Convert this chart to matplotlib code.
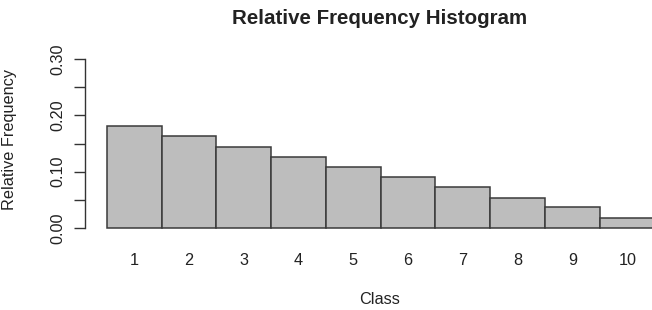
import matplotlib
matplotlib.use("Agg")
import matplotlib.pyplot as plt
import numpy as np

# ── Data ──────────────────────────────────────────────────────────────────────
classes   = ["1", "2", "3", "4", "5", "6", "7", "8", "9", "10"]
rel_freq  = [0.181, 0.163, 0.144, 0.127, 0.109, 0.091, 0.073, 0.054, 0.037, 0.017]
y_ticks   = [0.00, 0.05, 0.10, 0.15, 0.20, 0.25, 0.30]
y_labels  = ["0.00", "", "0.10", "", "0.20", "", "0.30"]

plt.rcParams["font.family"] = ["Liberation Sans", "DejaVu Sans"]
text_col = "#222222"

W, H = 652, 310
fig = plt.figure(figsize=(W / 100, H / 100), dpi=100)
# plot region runs past the right edge, like the clipped R device
ax = fig.add_axes([84.8 / W, 1 - 234.8 / H, 591.8 / W, 182.5 / H])

x = np.arange(len(classes)) + 0.5
ax.bar(x, rel_freq, width=1.0, color="#bdbdbd", edgecolor="#3a3a3a", linewidth=1.1)

ax.set_xlim(-0.4, 10.4)
ax.set_ylim(-0.012, 0.312)

for side in ["top", "right", "bottom"]:
    ax.spines[side].set_visible(False)
ax.spines["left"].set_bounds(0, 0.30)
ax.spines["left"].set_color("#333333")
ax.spines["left"].set_linewidth(1.0)

ax.set_yticks(y_ticks)
ax.set_yticklabels(y_labels, rotation=90, va="center", fontsize=11.7, color=text_col)
ax.tick_params(axis="y", length=8, width=1.0, color="#333333", pad=6)

ax.set_xticks(x)
ax.set_xticklabels(classes, fontsize=11.7, color=text_col)
ax.tick_params(axis="x", length=0, pad=13)

ax.set_xlabel("Class", fontsize=11.7, color=text_col)
ax.xaxis.set_label_coords((380 - 84.8) / 591.8, -(300 - 234.8) / 182.5)
ax.xaxis.label.set_va("center")
ax.set_ylabel("Relative Frequency", fontsize=11.7, color=text_col)
ax.yaxis.set_label_coords(-(84.8 - 10) / 591.8, (234.8 - 139) / 182.5)
ax.yaxis.label.set_va("center")

fig.text(380 / W, 1 - 18 / H, "Relative Frequency Histogram", ha="center",
         va="center", fontsize=14.8, fontweight="bold", color=text_col)

fig.savefig("out.png", dpi=100)
